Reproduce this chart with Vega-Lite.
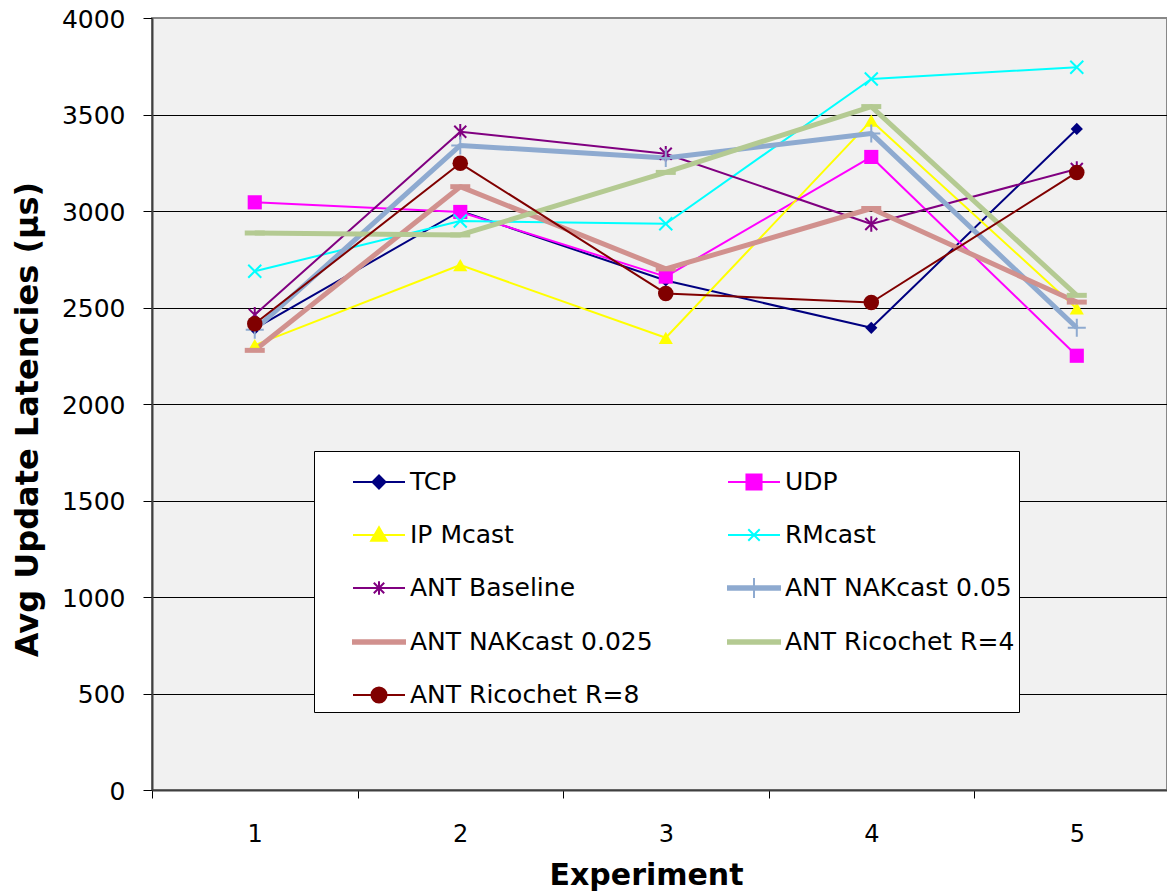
{
  "$schema": "https://vega.github.io/schema/vega-lite/v6.json",
  "width": 1015,
  "height": 772,
  "autosize": {"type": "none"},
  "padding": {"left": 152, "top": 18, "right": 0, "bottom": 104},
  "background": "white",
  "config": {
    "font": "DejaVu Sans",
    "view": {"fill": "#f1f1f1", "stroke": "#888888", "strokeWidth": 2}
  },
  "data": {
    "values": [
      {"series": "TCP", "experiment": 1, "latency": 2390},
      {"series": "TCP", "experiment": 2, "latency": 3000},
      {"series": "TCP", "experiment": 3, "latency": 2640},
      {"series": "TCP", "experiment": 4, "latency": 2395},
      {"series": "TCP", "experiment": 5, "latency": 3425},
      {"series": "UDP", "experiment": 1, "latency": 3045},
      {"series": "UDP", "experiment": 2, "latency": 2995},
      {"series": "UDP", "experiment": 3, "latency": 2660},
      {"series": "UDP", "experiment": 4, "latency": 3280},
      {"series": "UDP", "experiment": 5, "latency": 2250},
      {"series": "IP Mcast", "experiment": 1, "latency": 2305},
      {"series": "IP Mcast", "experiment": 2, "latency": 2720},
      {"series": "IP Mcast", "experiment": 3, "latency": 2343},
      {"series": "IP Mcast", "experiment": 4, "latency": 3468},
      {"series": "IP Mcast", "experiment": 5, "latency": 2495},
      {"series": "RMcast", "experiment": 1, "latency": 2688},
      {"series": "RMcast", "experiment": 2, "latency": 2948},
      {"series": "RMcast", "experiment": 3, "latency": 2934},
      {"series": "RMcast", "experiment": 4, "latency": 3684},
      {"series": "RMcast", "experiment": 5, "latency": 3745},
      {"series": "ANT Baseline", "experiment": 1, "latency": 2462},
      {"series": "ANT Baseline", "experiment": 2, "latency": 3411},
      {"series": "ANT Baseline", "experiment": 3, "latency": 3297},
      {"series": "ANT Baseline", "experiment": 4, "latency": 2933},
      {"series": "ANT Baseline", "experiment": 5, "latency": 3218},
      {"series": "ANT NAKcast 0.05", "experiment": 1, "latency": 2385},
      {"series": "ANT NAKcast 0.05", "experiment": 2, "latency": 3340},
      {"series": "ANT NAKcast 0.05", "experiment": 3, "latency": 3275},
      {"series": "ANT NAKcast 0.05", "experiment": 4, "latency": 3402},
      {"series": "ANT NAKcast 0.05", "experiment": 5, "latency": 2395},
      {"series": "ANT NAKcast 0.025", "experiment": 1, "latency": 2278},
      {"series": "ANT NAKcast 0.025", "experiment": 2, "latency": 3126},
      {"series": "ANT NAKcast 0.025", "experiment": 3, "latency": 2700},
      {"series": "ANT NAKcast 0.025", "experiment": 4, "latency": 3013},
      {"series": "ANT NAKcast 0.025", "experiment": 5, "latency": 2528},
      {"series": "ANT Ricochet R=4", "experiment": 1, "latency": 2886},
      {"series": "ANT Ricochet R=4", "experiment": 2, "latency": 2876},
      {"series": "ANT Ricochet R=4", "experiment": 3, "latency": 3200},
      {"series": "ANT Ricochet R=4", "experiment": 4, "latency": 3541},
      {"series": "ANT Ricochet R=4", "experiment": 5, "latency": 2563},
      {"series": "ANT Ricochet R=8", "experiment": 1, "latency": 2416},
      {"series": "ANT Ricochet R=8", "experiment": 2, "latency": 3247},
      {"series": "ANT Ricochet R=8", "experiment": 3, "latency": 2573},
      {"series": "ANT Ricochet R=8", "experiment": 4, "latency": 2526},
      {"series": "ANT Ricochet R=8", "experiment": 5, "latency": 3200}
    ]
  },
  "encoding": {
    "x": {
      "field": "experiment",
      "type": "quantitative",
      "scale": {"domain": [0.5, 5.439], "nice": false, "zero": false},
      "axis": {
        "values": [0.5, 1, 1.5, 2, 2.5, 3, 3.5, 4, 4.5, 5],
        "labelExpr": "datum.value % 1 === 0 ? format(datum.value, 'd') : ''",
        "tickOpacity": {"condition": {"test": "datum.value % 1 === 0", "value": 0}, "value": 1},
        "tickSize": 8,
        "tickColor": "#000000",
        "domainColor": "#404040",
        "domainWidth": 2,
        "grid": false,
        "labelFont": "DejaVu Sans",
        "labelFontSize": 24,
        "labelColor": "#000000",
        "labelBaseline": "alphabetic",
        "labelPadding": 43,
        "labelFlush": false,
        "labelOverlap": false,
        "title": "Experiment",
        "titleFont": "DejaVu Sans",
        "titleFontSize": 30,
        "titleFontWeight": "bold",
        "titleColor": "#000000",
        "titleX": 494,
        "titleY": 94.5,
        "titleAlign": "center",
        "titleBaseline": "alphabetic"
      }
    },
    "y": {
      "field": "latency",
      "type": "quantitative",
      "scale": {"domain": [0, 4000], "nice": false},
      "axis": {
        "values": [0, 500, 1000, 1500, 2000, 2500, 3000, 3500, 4000],
        "format": "d",
        "tickSize": 9,
        "tickColor": "#000000",
        "domainColor": "#404040",
        "domainWidth": 2,
        "grid": true,
        "gridColor": {"condition": {"test": "datum.value === 4000", "value": "#888888"}, "value": "#000000"},
        "gridWidth": 1,
        "labelFont": "DejaVu Sans",
        "labelFontSize": 25,
        "labelColor": "#000000",
        "labelPadding": 18,
        "labelOffset": 1,
        "title": "Avg Update Latencies (µs)",
        "titleFont": "DejaVu Sans",
        "titleFontSize": 32,
        "titleFontWeight": "bold",
        "titleColor": "#000000",
        "titleAngle": 270,
        "titleX": -115,
        "titleY": 401,
        "titleAlign": "center",
        "titleBaseline": "alphabetic"
      }
    }
  },
  "layer": [
    {
      "transform": [{"filter": "datum.experiment > 100"}],
      "mark": {"type": "point", "opacity": 1},
      "encoding": {
        "fill": {
          "field": "series",
          "type": "nominal",
          "scale": {
            "domain": ["TCP", "UDP", "IP Mcast", "RMcast", "ANT Baseline", "ANT NAKcast 0.05", "ANT NAKcast 0.025", "ANT Ricochet R=4", "ANT Ricochet R=8"],
            "range": ["#000080", "#ff00ff", "#ffff00", "#00ffff", "#800080", "#8eaad0", "#d1918e", "#b4ca92", "#800000"]
          },
          "legend": {
            "title": null,
            "orient": "none",
            "legendX": 162,
            "legendY": 433,
            "direction": "horizontal",
            "columns": 2,
            "fillColor": "#ffffff",
            "strokeColor": "#000000",
            "padding": 4,
            "labelFont": "DejaVu Sans",
            "labelFontSize": 25,
            "labelColor": "#000000",
            "labelLimit": 500,
            "symbolSize": 2704,
            "symbolStrokeWidth": 2,
            "symbolOffset": 34,
            "labelOffset": 4,
            "rowPadding": 13,
            "columnPadding": 40
          }
        },
        "stroke": {
          "field": "series",
          "type": "nominal",
          "scale": {
            "domain": ["TCP", "UDP", "IP Mcast", "RMcast", "ANT Baseline", "ANT NAKcast 0.05", "ANT NAKcast 0.025", "ANT Ricochet R=4", "ANT Ricochet R=8"],
            "range": ["#000080", "#ff00ff", "#ffff00", "#00ffff", "#800080", "#8eaad0", "#d1918e", "#b4ca92", "#800000"]
          }
        },
        "shape": {
          "field": "series",
          "type": "nominal",
          "scale": {
            "domain": ["TCP", "UDP", "IP Mcast", "RMcast", "ANT Baseline", "ANT NAKcast 0.05", "ANT NAKcast 0.025", "ANT Ricochet R=4", "ANT Ricochet R=8"],
            "range": [
              "M-1,0H1M0,-0.25L0.25,0L0,0.25L-0.25,0Z",
              "M-1,0H1M-0.29,-0.29H0.29V0.29H-0.29Z",
              "M-1,0H1M0,-0.3L0.3,0.22H-0.3Z",
              "M-1,0H1M-0.22,-0.22L0.22,0.22M-0.22,0.22L0.22,-0.22",
              "M-1,0H1M-0.2,-0.2L0.2,0.2M-0.2,0.2L0.2,-0.2M0,-0.26V0.26",
              "M-1,-0.07H1V0.07H-1ZM0,-0.38V0.38",
              "M-1,-0.07H1V0.07H-1Z",
              "M-1,-0.07H1V0.07H-1Z",
              "M-1,0H1M0.29,0A0.29,0.29,0,1,1,-0.29,0A0.29,0.29,0,1,1,0.29,0Z"
            ]
          }
        }
      }
    },
    {
      "transform": [{"filter": {"field": "series", "oneOf": ["TCP", "UDP", "IP Mcast", "RMcast", "ANT Baseline"]}}],
      "mark": {"type": "line", "strokeJoin": "round", "strokeWidth": 2},
      "encoding": {"stroke": {"field": "series", "type": "nominal"}}
    },
    {
      "transform": [{"filter": {"field": "series", "oneOf": ["ANT NAKcast 0.05", "ANT NAKcast 0.025", "ANT Ricochet R=4"]}}],
      "mark": {"type": "line", "strokeJoin": "round", "strokeWidth": 5},
      "encoding": {"stroke": {"field": "series", "type": "nominal"}}
    },
    {
      "transform": [{"filter": {"field": "series", "equal": "ANT Ricochet R=8"}}],
      "mark": {"type": "line", "strokeJoin": "round", "strokeWidth": 2},
      "encoding": {"stroke": {"field": "series", "type": "nominal"}}
    },
    {
      "transform": [{"filter": {"field": "series", "equal": "TCP"}}],
      "mark": {"type": "point", "shape": "diamond", "size": 150, "filled": true, "opacity": 1},
      "encoding": {"fill": {"field": "series", "type": "nominal"}}
    },
    {
      "transform": [{"filter": {"field": "series", "equal": "UDP"}}],
      "mark": {"type": "point", "shape": "square", "size": 200, "filled": true, "opacity": 1},
      "encoding": {"fill": {"field": "series", "type": "nominal"}}
    },
    {
      "transform": [{"filter": {"field": "series", "equal": "IP Mcast"}}],
      "mark": {"type": "point", "shape": "triangle-up", "size": 200, "filled": true, "opacity": 1},
      "encoding": {"fill": {"field": "series", "type": "nominal"}}
    },
    {
      "transform": [{"filter": {"field": "series", "equal": "RMcast"}}],
      "mark": {"type": "point", "shape": "M-1,-1L1,1M-1,1L1,-1", "size": 169, "filled": false, "strokeWidth": 2, "opacity": 1},
      "encoding": {"stroke": {"field": "series", "type": "nominal"}}
    },
    {
      "transform": [{"filter": {"field": "series", "equal": "ANT Baseline"}}],
      "mark": {"type": "point", "shape": "M-1,-1L1,1M-1,1L1,-1M0,-1.3V1.3", "size": 144, "filled": false, "strokeWidth": 2, "opacity": 1},
      "encoding": {"stroke": {"field": "series", "type": "nominal"}}
    },
    {
      "transform": [{"filter": {"field": "series", "equal": "ANT NAKcast 0.05"}}],
      "mark": {"type": "point", "shape": "M-1,0H1M0,-1V1", "size": 324, "filled": false, "strokeWidth": 2, "opacity": 1},
      "encoding": {"stroke": {"field": "series", "type": "nominal"}}
    },
    {
      "transform": [{"filter": {"field": "series", "oneOf": ["ANT NAKcast 0.025", "ANT Ricochet R=4"]}}],
      "mark": {"type": "point", "shape": "M-1,-0.25H1V0.25H-1Z", "size": 400, "filled": true, "opacity": 1},
      "encoding": {"fill": {"field": "series", "type": "nominal"}}
    },
    {
      "transform": [{"filter": {"field": "series", "equal": "ANT Ricochet R=8"}}],
      "mark": {"type": "point", "shape": "circle", "size": 240, "filled": true, "opacity": 1},
      "encoding": {"fill": {"field": "series", "type": "nominal"}}
    }
  ]
}
